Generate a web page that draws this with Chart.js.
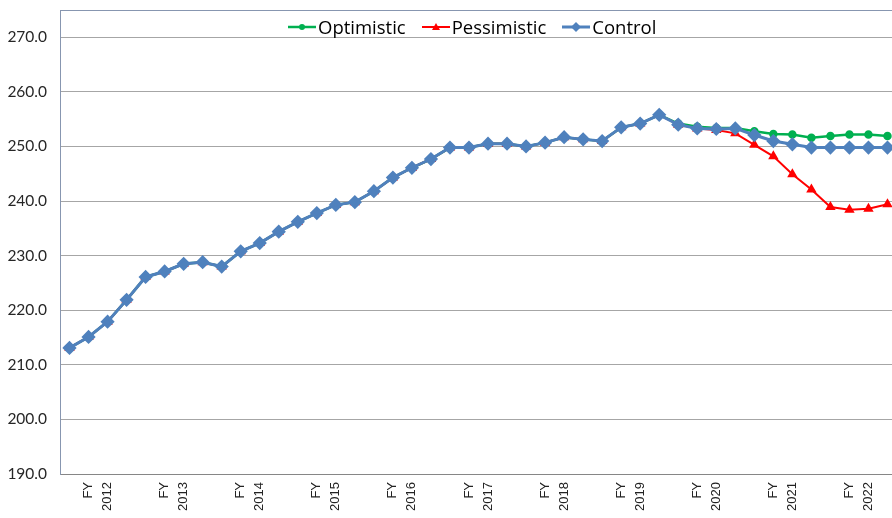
<!DOCTYPE html>
<html>
<head>
<meta charset="utf-8">
<script src="https://cdn.jsdelivr.net/npm/chart.js@4.4.0/dist/chart.umd.min.js"></script>
<style>
html, body { margin: 0; padding: 0; background: #fff; overflow: hidden; }
#wrap { position: relative; width: 900px; height: 518px; }
#chart { display: block; }
#legend {
    position: absolute; top: 14px; left: 288px;
    display: flex; align-items: center;
    font-family: 'Open Sans', sans-serif; font-size: 18.5px; color: #000;
}
.item { display: flex; align-items: center; margin-right: 16px; }
.item canvas { margin-right: 2px; }
</style>
</head>
<body>
<div id="wrap">
    <canvas id="chart" width="900" height="518"></canvas>
    <div id="legend"></div>
</div>
<script>
// fiscal years shown on the axis (one label every 4 quarters)
var fiscalYears = ['2012', '2013', '2014', '2015', '2016', '2017', '2018', '2019', '2020', '2021', '2022'];

// quarterly values, 44 points
var controlValues = [
    213.1, 215.1, 217.9, 221.9, 226.1, 227.1, 228.5, 228.8, 228.0, 230.8,
    232.3, 234.4, 236.2, 237.8, 239.3, 239.8, 241.8, 244.3, 246.1, 247.7,
    249.8, 249.8, 250.5, 250.5, 250.0, 250.7, 251.7, 251.3, 251.0, 253.5,
    254.2, 255.8, 254.0, 253.3, 253.2, 253.3, 252.1, 251.0, 250.4, 249.8,
    249.8, 249.8, 249.8, 249.8
];
var optimisticValues = [
    213.1, 215.1, 217.9, 221.9, 226.1, 227.1, 228.5, 228.8, 228.0, 230.8,
    232.3, 234.4, 236.2, 237.8, 239.3, 239.8, 241.8, 244.3, 246.1, 247.7,
    249.8, 249.8, 250.5, 250.5, 250.0, 250.7, 251.7, 251.3, 251.0, 253.5,
    254.2, 255.8, 254.2, 253.6, 253.4, 253.4, 252.8, 252.3, 252.2, 251.6,
    251.9, 252.2, 252.2, 251.9
];
var pessimisticValues = [
    213.1, 215.1, 217.9, 221.9, 226.1, 227.1, 228.5, 228.8, 228.0, 230.8,
    232.3, 234.4, 236.2, 237.8, 239.3, 239.8, 241.8, 244.3, 246.1, 247.7,
    249.8, 249.8, 250.5, 250.5, 250.0, 250.7, 251.7, 251.3, 251.0, 253.5,
    254.2, 255.8, 254.0, 253.3, 253.0, 252.4, 250.3, 248.2, 244.9, 242.1,
    238.9, 238.4, 238.6, 239.4
];

var yTicks = [190, 200, 210, 220, 230, 240, 250, 260, 270];
var yMin = 190;
var yMax = 275;

// category labels: "FY" / year on the 2nd quarter of each 4-quarter block
var quarterLabels = controlValues.map(function(v, i) {
    if ((i - 1) % 4 === 0) {
        return ['FY', fiscalYears[(i - 1) / 4]];
    }
    return '';
});

function makeSwatch(color, style, lineWidth) {
    var c = document.createElement('canvas');
    c.width = 28;
    c.height = 14;
    var g = c.getContext('2d');
    g.strokeStyle = color;
    g.fillStyle = color;
    g.lineWidth = lineWidth;
    g.beginPath();
    g.moveTo(0, 7);
    g.lineTo(28, 7);
    g.stroke();
    g.beginPath();
    if (style === 'circle') {
        g.arc(14, 7, 3, 0, Math.PI * 2);
    } else if (style === 'triangle') {
        g.moveTo(14, 3);
        g.lineTo(18, 10);
        g.lineTo(10, 10);
        g.closePath();
    } else {
        g.moveTo(14, 2);
        g.lineTo(19, 7);
        g.lineTo(14, 12);
        g.lineTo(9, 7);
        g.closePath();
    }
    g.fill();
    return c;
}

var ctx = document.getElementById('chart').getContext('2d');
var chart = new Chart(ctx, {
    type: 'line',
    data: {
        labels: quarterLabels,
        datasets: [{
            label: 'Optimistic',
            data: optimisticValues,
            borderColor: '#00b050',
            backgroundColor: '#00b050',
            borderWidth: 2.5,
            pointStyle: 'circle',
            pointRadius: 3,
            order: 2
        }, {
            label: 'Pessimistic',
            data: pessimisticValues,
            borderColor: '#ff0000',
            backgroundColor: '#ff0000',
            borderWidth: 2,
            pointStyle: 'triangle',
            pointRadius: 4,
            order: 1
        }, {
            label: 'Control',
            data: controlValues,
            borderColor: '#4f81bd',
            backgroundColor: '#4f81bd',
            borderWidth: 3,
            pointStyle: 'rectRot',
            pointRadius: 5,
            order: 0
        }]
    },
    options: {
        responsive: false,
        animation: false,
        devicePixelRatio: 1,
        layout: {
            autoPadding: false,
            padding: { top: 10, right: 3, left: 0, bottom: 0 }
        },
        scales: {
            x: {
                offset: true,
                grid: { display: false, drawTicks: false },
                border: { color: '#868686', width: 1 },
                afterFit: function(scale) {
                    scale.height = 44;
                    scale.paddingLeft = 0;
                    scale.paddingRight = 0;
                },
                ticks: {
                    autoSkip: false,
                    maxRotation: 90,
                    minRotation: 90,
                    padding: 8,
                    color: '#222',
                    font: { family: 'Liberation Sans', size: 13, lineHeight: 1.46 }
                }
            },
            y: {
                min: yMin,
                max: yMax,
                afterBuildTicks: function(scale) {
                    scale.ticks = yTicks.concat([yMax]).map(function(v) { return { value: v }; });
                },
                afterFit: function(scale) {
                    scale.width = 60;
                    scale.paddingTop = 0;
                    scale.paddingBottom = 0;
                },
                border: { color: '#8796b0', width: 1 },
                grid: {
                    drawTicks: false,
                    lineWidth: 1,
                    color: function(c) {
                        if (c.tick && c.tick.value === yMax) return '#8796b0';
                        return '#a6a6a6';
                    }
                },
                ticks: {
                    padding: 13,
                    color: '#262626',
                    font: { family: 'Lato', size: 15.5 },
                    callback: function(value) {
                        return value === yMax ? '' : value.toFixed(1);
                    }
                }
            }
        },
        plugins: {
            legend: { display: false },
            tooltip: { enabled: false }
        }
    }
});

// legend overlaid inside the plot area
var legendBox = document.getElementById('legend');
var swatchStyles = { 'Optimistic': 'circle', 'Pessimistic': 'triangle', 'Control': 'diamond' };
chart.data.datasets.forEach(function(ds) {
    var item = document.createElement('div');
    item.className = 'item';
    item.appendChild(makeSwatch(ds.borderColor, swatchStyles[ds.label], ds.borderWidth));
    var span = document.createElement('span');
    span.textContent = ds.label;
    item.appendChild(span);
    legendBox.appendChild(item);
});
</script>
</body>
</html>
